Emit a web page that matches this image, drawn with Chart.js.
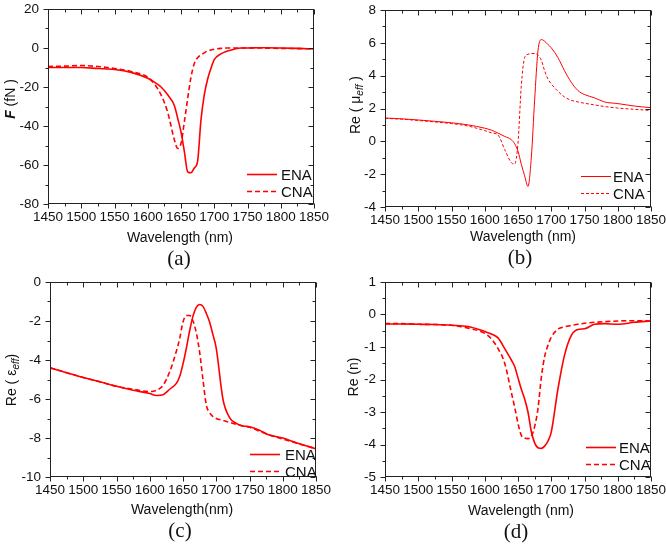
<!DOCTYPE html>
<html lang="en">
<head>
<meta charset="utf-8" />
<title>ENA vs CNA</title>
<script src="https://cdn.jsdelivr.net/npm/chart.js"></script>
<style>
  body { margin: 0; background: #fff; }
  #page { position: relative; width: 666px; height: 547px; overflow: hidden; font-family: "Liberation Sans", Arial, sans-serif; color: #111; }
  .panel { position: absolute; }
  .lbl { position: absolute; white-space: nowrap; transform: translate(-50%, -50%); font-size: 14px; }
  .ylbl { transform: translate(-50%, -50%) rotate(-90deg); }
  .cap { font-family: "Liberation Serif", "Times New Roman", serif; font-size: 21px; }
  sub { font-size: 10px; font-style: italic; vertical-align: -3px; }
</style>
</head>
<body>
<div id="page">
  <div class="panel" style="left:0;top:0"><canvas id="chartA" width="333" height="273"></canvas></div>
  <div class="panel" style="left:333px;top:0"><canvas id="chartB" width="333" height="273"></canvas></div>
  <div class="panel" style="left:0;top:273px"><canvas id="chartC" width="333" height="274"></canvas></div>
  <div class="panel" style="left:333px;top:273px"><canvas id="chartD" width="333" height="274"></canvas></div>

  <!-- axis titles and captions -->
  <div class="lbl ylbl" style="left:10px;top:99px"><b><i>F</i></b> (fN )</div>
  <div class="lbl" style="left:180px;top:237px">Wavelength (nm)</div>
  <div class="lbl cap" style="left:179px;top:258px">(a)</div>

  <div class="lbl ylbl" style="left:356px;top:105px">Re ( μ<sub>eff</sub> )</div>
  <div class="lbl" style="left:523px;top:236px">Wavelength (nm)</div>
  <div class="lbl cap" style="left:520px;top:257px">(b)</div>

  <div class="lbl ylbl" style="left:12px;top:380px">Re ( ε<sub>eff</sub>)</div>
  <div class="lbl" style="left:182px;top:509px">Wavelength(nm)</div>
  <div class="lbl cap" style="left:180px;top:530px">(c)</div>

  <div class="lbl ylbl" style="left:353px;top:377px">Re (n)</div>
  <div class="lbl" style="left:521px;top:510px">Wavelength (nm)</div>
  <div class="lbl cap" style="left:516px;top:531px">(d)</div>
</div>

<script>
// shared wavelength grid (nm)
const wavelength = [1450,1475,1500,1525,1550,1575,1600,1610,1620,1630,1640,1645,1650,1655,1660,1665,1670,1675,1680,1685,1690,1695,1700,1710,1720,1730,1740,1750,1765,1780,1800,1825,1850];
const seriesNames = ['ENA', 'CNA'];

// (a) force F (fN)
const forceEna = [-10,-10,-10,-10.5,-11,-12.5,-15.5,-17.5,-20,-24,-29.5,-36,-43,-53,-63.5,-64,-61.5,-58,-37,-24,-16,-10.5,-6,-3,-1.5,-0.6,0,0,0.1,0.1,0,-0.2,-0.5];
const forceCna = [-9.5,-9.3,-9,-9.5,-10.5,-12,-15,-18.5,-24,-33,-47,-51.5,-49,-38,-26,-15,-8,-5,-3.5,-2.5,-1.5,-1,-0.6,-0.2,0,0,0,0,0,-0.1,-0.2,-0.3,-0.4];

// (b) Re(mu_eff)
const muEna = [1.42,1.37,1.3,1.22,1.13,1.0,0.8,0.68,0.5,0.3,0.1,-0.15,-0.6,-1.4,-2.1,-2.75,-1.0,2.5,5.5,6.2,6.1,5.9,5.7,5.1,4.3,3.6,3.1,2.85,2.65,2.4,2.3,2.15,2.05];
const muCna = [1.4,1.35,1.27,1.18,1.08,0.93,0.65,0.52,0.38,-0.5,-1.3,-1.38,-0.1,3.4,5.1,5.3,5.35,5.35,5.25,4.95,4.3,3.8,3.5,3.05,2.7,2.5,2.4,2.32,2.22,2.12,2.03,1.95,1.88];

// (c) Re(eps_eff)
const epsEna = [-4.4,-4.65,-4.9,-5.12,-5.35,-5.55,-5.72,-5.82,-5.78,-5.5,-5.2,-4.85,-4.2,-3.4,-2.5,-1.75,-1.3,-1.15,-1.25,-1.6,-2.05,-2.7,-3.4,-6.0,-6.95,-7.25,-7.38,-7.42,-7.6,-7.85,-8.0,-8.3,-8.55];
const epsCna = [-4.4,-4.65,-4.9,-5.12,-5.35,-5.5,-5.62,-5.55,-5.3,-4.6,-3.55,-2.9,-2.05,-1.72,-1.72,-2.0,-2.6,-3.6,-5.0,-6.3,-6.7,-6.9,-7.0,-7.1,-7.2,-7.3,-7.38,-7.45,-7.65,-7.85,-8.05,-8.3,-8.55];

// (d) Re(n)
const nEna = [-0.29,-0.29,-0.3,-0.31,-0.33,-0.37,-0.52,-0.6,-0.72,-1.05,-1.4,-1.6,-1.95,-2.3,-2.6,-3.0,-3.6,-3.95,-4.1,-4.12,-4.05,-3.9,-3.62,-2.3,-1.25,-0.65,-0.46,-0.44,-0.3,-0.28,-0.3,-0.24,-0.2];
const nCna = [-0.28,-0.28,-0.3,-0.31,-0.33,-0.42,-0.58,-0.75,-1.05,-1.5,-2.4,-2.85,-3.35,-3.72,-3.8,-3.82,-3.75,-3.45,-2.9,-1.95,-1.3,-0.95,-0.7,-0.45,-0.38,-0.34,-0.3,-0.27,-0.24,-0.22,-0.2,-0.19,-0.2];

// tick values
const xTicks = [1450,1500,1550,1600,1650,1700,1750,1800,1850];
const forceTicks = [-80,-60,-40,-20,0,20];
const muTicks = [-4,-2,0,2,4,6,8];
const epsTicks = [-10,-8,-6,-4,-2,0];
const nTicks = [-5,-4,-3,-2,-1,0,1];

// box around the plot; major + minor ticks all point left / down (out on left+bottom, in on right+top)
const framePlugin = {
  id: 'frame',
  afterDatasetsDraw(chart) {
    const { ctx, chartArea: a, scales } = chart;
    const L = Math.round(a.left) + 0.5, R = Math.round(a.right) - 0.5;
    const T = Math.round(a.top) + 0.5, B = Math.round(a.bottom) - 0.5;
    ctx.save();
    ctx.strokeStyle = '#222';
    ctx.lineWidth = 1;
    ctx.strokeRect(L, T, R - L, B - T);
    const withMinor = vals => {
      const out = [];
      vals.forEach((v, i) => {
        out.push([v, true]);
        if (i < vals.length - 1) out.push([(v + vals[i + 1]) / 2, false]);
      });
      return out;
    };
    ctx.beginPath();
    withMinor(scales.x.ticks.map(t => t.value)).forEach(([v, major]) => {
      const p = Math.round(scales.x.getPixelForValue(v)) + 0.5;
      const len = major ? 5 : 3;
      ctx.moveTo(p, B); ctx.lineTo(p, B + len);
      ctx.moveTo(p, T); ctx.lineTo(p, T + len);
    });
    withMinor(scales.y.ticks.map(t => t.value)).forEach(([v, major]) => {
      const p = Math.round(scales.y.getPixelForValue(v)) + 0.5;
      const len = major ? 5 : 3;
      ctx.moveTo(L, p); ctx.lineTo(L - len, p);
      ctx.moveTo(R, p); ctx.lineTo(R - len, p);
    });
    ctx.stroke();
    ctx.restore();
  }
};

// legend in the lower right corner of the plot
const cornerLegend = {
  id: 'cornerLegend',
  afterDatasetsDraw(chart, args, opts) {
    const { ctx, chartArea: a } = chart;
    ctx.save();
    chart.data.datasets.forEach((ds, i) => {
      const yy = Math.round(a.bottom - opts.rows[i]) + 0.5;
      const x1 = a.right - opts.right;
      ctx.strokeStyle = ds.borderColor;
      ctx.lineWidth = ds.borderWidth;
      ctx.setLineDash(ds.borderDash || []);
      ctx.beginPath();
      ctx.moveTo(x1 - opts.len, yy);
      ctx.lineTo(x1, yy);
      ctx.stroke();
      ctx.setLineDash([]);
      ctx.fillStyle = '#111';
      ctx.font = '15px "Liberation Sans", Arial, sans-serif';
      ctx.textBaseline = 'middle';
      ctx.fillText(ds.label, x1 + opts.gap, yy + 1);
    });
    ctx.restore();
  }
};

function makePanel(id, ena, cna, yTicks, box, style) {
  const tickFont = { family: '"Liberation Sans", Arial, sans-serif', size: 13.5 };
  const toPts = vals => wavelength.map((w, i) => ({ x: w, y: vals[i] }));
  return new Chart(document.getElementById(id), {
    type: 'line',
    data: {
      datasets: [
        { label: seriesNames[0], data: toPts(ena), borderColor: 'rgb(255,0,0)', borderWidth: style.width, pointRadius: 0, cubicInterpolationMode: 'monotone' },
        { label: seriesNames[1], data: toPts(cna), borderColor: 'rgb(255,0,0)', borderWidth: style.width, borderDash: style.dash, pointRadius: 0, cubicInterpolationMode: 'monotone' }
      ]
    },
    plugins: [framePlugin, cornerLegend],
    options: {
      responsive: false,
      animation: false,
      layout: { padding: { top: box.top, right: box.right, bottom: box.bottom, left: 0 } },
      plugins: {
        legend: { display: false },
        tooltip: { enabled: false },
        cornerLegend: box.legend
      },
      scales: {
        x: {
          type: 'linear', min: xTicks[0], max: xTicks[xTicks.length - 1],
          afterBuildTicks: s => { s.ticks = xTicks.map(v => ({ value: v })); },
          afterFit: s => { s.height = box.xh; s.paddingLeft = 0; s.paddingRight = 0; },
          grid: { display: false, drawTicks: false },
          border: { display: false },
          ticks: { autoSkip: false, maxRotation: 0, padding: 5, color: '#111', font: tickFont, callback: v => String(v) }
        },
        y: {
          type: 'linear', min: yTicks[0], max: yTicks[yTicks.length - 1],
          afterBuildTicks: s => { s.ticks = yTicks.map(v => ({ value: v })); },
          // fixed axis width; drop the label overhang so the plot box sits where layout padding puts it
          afterFit: s => { s.width = box.yw; s.paddingTop = 0; s.paddingBottom = 0; },
          grid: { display: false, drawTicks: false },
          border: { display: false },
          ticks: { padding: 9, color: '#111', font: tickFont, callback: v => String(v) }
        }
      }
    }
  });
}

const thick = { width: 1.6, dash: [5, 3] };
const thin = { width: 1, dash: [3, 2] };

makePanel('chartA', forceEna, forceCna, forceTicks,
  { top: 9, right: 19, bottom: 29, xh: 40, yw: 48, legend: { right: 37, len: 30, gap: 4, rows: [30, 13] } }, thick);
makePanel('chartB', muEna, muCna, muTicks,
  { top: 10, right: 15, bottom: 26, xh: 40, yw: 52, legend: { right: 40, len: 30, gap: 2, rows: [31, 14] } }, thin);
makePanel('chartC', epsEna, epsCna, epsTicks,
  { top: 9, right: 17, bottom: 30, xh: 40, yw: 50, legend: { right: 36, len: 30, gap: 5, rows: [23, 6] } }, thick);
makePanel('chartD', nEna, nCna, nTicks,
  { top: 9, right: 15, bottom: 30, xh: 40, yw: 52, legend: { right: 35, len: 30, gap: 3, rows: [30, 13] } }, thick);
</script>
</body>
</html>
